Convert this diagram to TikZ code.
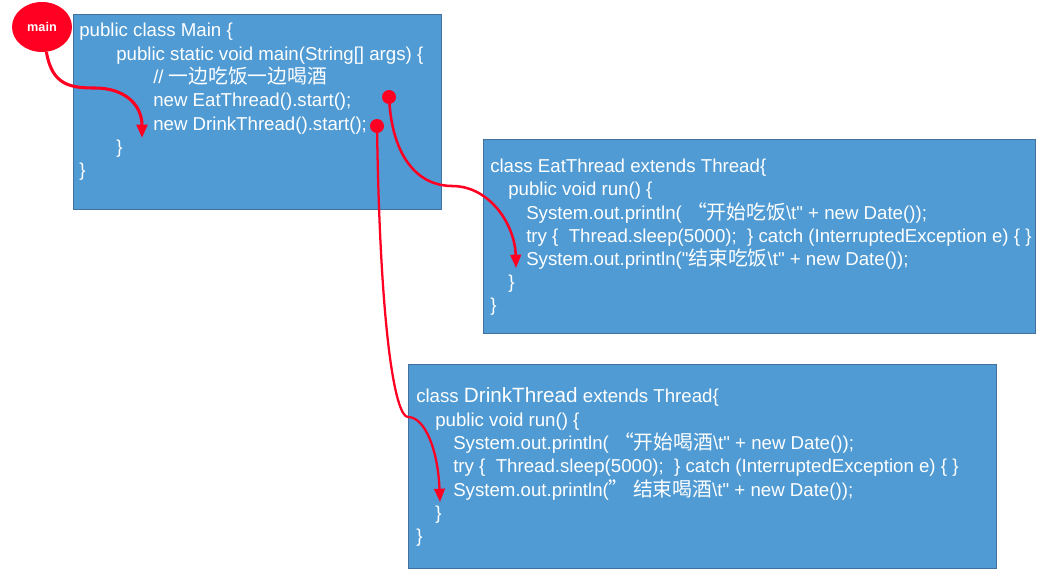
\documentclass[tikz,border=0pt]{standalone}
\usepackage{fontspec}
\setmainfont{Liberation Sans}[Ligatures=TeXOff]
\newfontfamily\cjk[Scale=1.06]{Noto Sans CJK SC}
\usetikzlibrary{arrows.meta,shapes.geometric}
\definecolor{BoxClr}{RGB}{80,155,212}
\definecolor{EdgeClr}{RGB}{65,113,156}
\definecolor{DotClr}{RGB}{255,0,34}

\begin{document}
\begin{tikzpicture}[x=0.75pt,y=-0.75pt,
  codebox/.style={draw=EdgeClr,fill=BoxClr,line width=0.8pt,anchor=north west,inner sep=0pt},
  codeline/.style={anchor=west,text=white,inner sep=0pt,text height=10.5pt,text depth=2pt,
    font=\fontsize{14}{16}\selectfont},
  flow/.style={draw=DotClr,line width=1.9pt,-{Triangle[length=10pt,width=8pt]}},
  reddot/.style={circle,fill=DotClr,inner sep=0pt,minimum size=10.5pt}]
\useasboundingbox (0,0) rectangle (1064,582);

% the three classes
\node[codebox,minimum width=276pt,minimum height=146.25pt] (mainBox) at (73,14) {};
\node[codebox,minimum width=414pt,minimum height=145.5pt] (eatBox) at (483,139) {};
\node[codebox,minimum width=441pt,minimum height=153pt] (drinkBox) at (408,364) {};

\node[ellipse,fill=DotClr,minimum width=45pt,minimum height=37.5pt,text=white,
  font=\fontsize{9.5}{11}\bfseries] (mainOval) at (42,27) {main};

% Main
\node[codeline] (m1) at (79,31) {public class Main \{};
\node[codeline] (m2) at (116,55) {public static void main(String[] args) \{};
\node[codeline] (m3) at (153,78) {// {\cjk 一边吃饭一边喝酒}};
\node[codeline] (m4) at (153,101) {new EatThread().start();};
\node[codeline] (m5) at (153,125) {new DrinkThread().start();};
\node[codeline] (m6) at (116,148) {\}};
\node[codeline] (m7) at (79,171) {\}};

% EatThread
\node[codeline] (e1) at (490,167) {class EatThread extends Thread\{};
\node[codeline] (e2) at (508,190) {public void run() \{};
\node[codeline] (e3) at (526,214) {System.out.println(\ {\cjk “开始吃饭}\textbackslash t" + new Date());};
\node[codeline] (e4) at (526,237) {try \{\ \ Thread.sleep(5000);\ \ \} catch (InterruptedException e) \{ \}};
\node[codeline] (e5) at (526,260) {System.out.println("{\cjk 结束吃饭}\textbackslash t" + new Date());};
\node[codeline] (e6) at (508,283) {\}};
\node[codeline] (e7) at (490,306) {\}};

% DrinkThread
\node[codeline] (r1) at (416,397) {class {\fontsize{15.5}{17}\selectfont DrinkThread} extends Thread\{};
\node[codeline] (r2) at (435,421) {public void run() \{};
\node[codeline] (r3) at (453,444) {System.out.println(\ {\cjk “开始喝酒}\textbackslash t" + new Date());};
\node[codeline] (r4) at (453,467) {try \{\ \ Thread.sleep(5000);\ \ \} catch (InterruptedException e) \{ \}};
\node[codeline] (r5) at (453,491) {System.out.println({\cjk ”\ 结束喝酒}\textbackslash t" + new Date());};
\node[codeline] (r6) at (435,514) {\}};
\node[codeline] (r7) at (416,537) {\}};

% start points and flow
\node[reddot] (eatDot) at (389,97) {};
\node[reddot] (drinkDot) at (377,126) {};

\coordinate (k1) at (95,88);
\coordinate (t1) at (142,138);
\coordinate (k2) at (452,186);
\coordinate (t2) at (516,268);
\coordinate (k3) at (408,417);
\coordinate (t3) at (440,502);

\draw[flow,line width=2.3pt] (mainOval.280) .. controls (52,85) and (70,88) .. (k1)
  .. controls (125,88) and (142,105) .. (t1);
\draw[flow] (eatDot.center) .. controls (392,160) and (420,186) .. (k2)
  .. controls (490,186) and (515,225) .. (t2);
\draw[flow,line width=1.7pt] (drinkDot.center) .. controls (380,330) and (395,417) .. (k3)
  .. controls (425,417) and (438,450) .. (t3);

\end{tikzpicture}
\end{document}
